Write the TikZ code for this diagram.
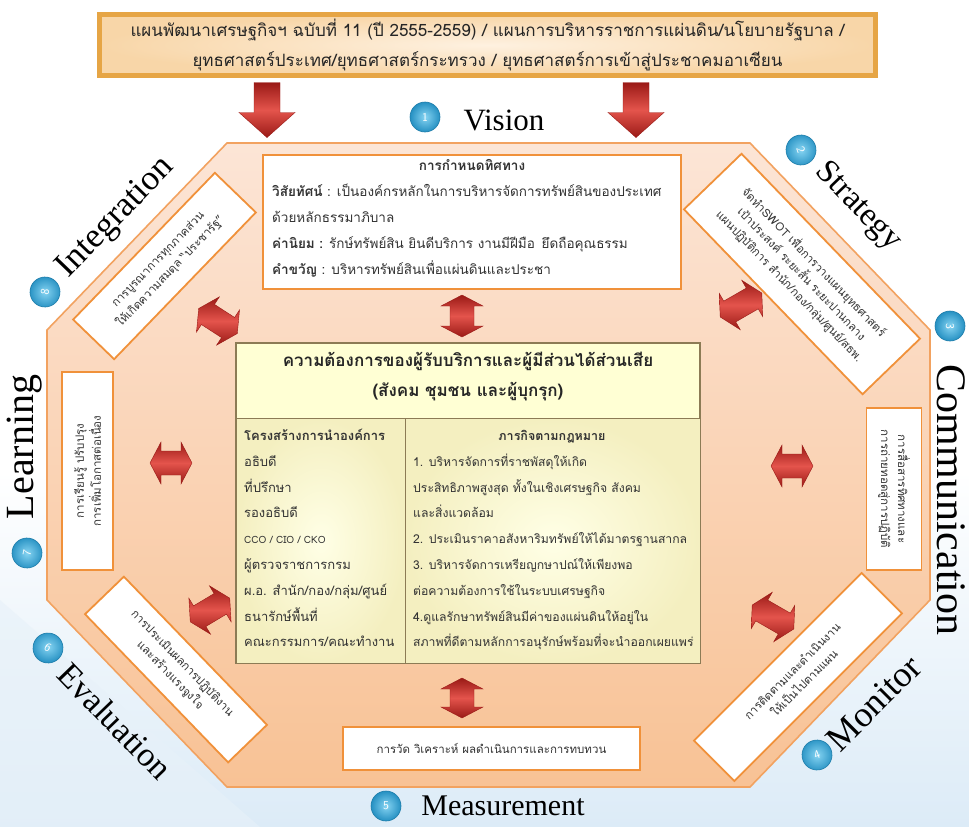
\documentclass[tikz,border=0pt]{standalone}
\usepackage{fontspec}
\setmainfont{Liberation Serif}
\newfontfamily\thai[Script=Thai]{Loma}
\newcommand{\tsize}[2]{\fontsize{#1}{#2}\selectfont}

\definecolor{skyblue}{HTML}{DCEBF7}
\definecolor{octtop}{HTML}{FCE5D6}
\definecolor{octbot}{HTML}{F8C295}
\definecolor{octline}{HTML}{F2A260}
\definecolor{boxline}{HTML}{F0913A}
\definecolor{bannergold}{HTML}{E6A545}
\definecolor{bannerin}{HTML}{FEF1E0}
\definecolor{bannerout}{HTML}{F8D6A8}
\definecolor{centerfill}{HTML}{FFFFD4}
\definecolor{centerline}{HTML}{8C7B55}
\definecolor{colin}{HTML}{FFFFE6}
\definecolor{colout}{HTML}{F4EFC0}
\definecolor{arrowdark}{HTML}{9A1A16}
\definecolor{arrowlight}{HTML}{E4544C}
\definecolor{ballblue}{HTML}{2590C2}
\definecolor{balllight}{HTML}{86D4F2}
\definecolor{ballrim}{HTML}{1E7DAA}
\definecolor{textgray}{HTML}{333333}

\begin{document}
\begin{tikzpicture}[x=1pt,y=-1pt]
\tikzset{
  every node/.style={inner sep=0pt},
  sidebox/.style={draw=boxline, line width=1.8pt, fill=white, align=center,
    text=textgray, font=\thai\tsize{11.5}{17}},
  ball/.style={circle, minimum size=30pt, draw=ballrim, line width=0.6pt,
    inner color=balllight, outer color=ballblue,
    text=white, font=\sffamily\tsize{12}{12}},
  phase/.style={text=black, font=\tsize{#1}{#1}},
  vtext/.style={text=textgray, font=\thai\tsize{13.5}{13.5}, text height=11pt, text depth=4pt},
  ctext/.style={text=textgray, font=\thai\tsize{13}{13}, text height=11pt, text depth=4pt, anchor=west},
  arrowshade/.style={top color=arrowdark, bottom color=arrowdark, middle color=arrowlight,
    draw=arrowdark, line width=0.4pt},
  pics/dblarrow/.style={code={
    \path[arrowshade] (-#1,0) -- (-#1+11,-21) -- (-#1+11,-12) -- (#1-11,-12) -- (#1-11,-21)
      -- (#1,0) -- (#1-11,21) -- (#1-11,12) -- (-#1+11,12) -- (-#1+11,21) -- cycle;}},
  pics/bigarrow/.style={code={
    \path[arrowshade] (-27.5,-13) -- (2.5,-13) -- (2.5,-28) -- (27.5,0) -- (2.5,28)
      -- (2.5,13) -- (-27.5,13) -- cycle;}}
}
\useasboundingbox (0,0) rectangle (969,827);

% backdrop
\fill[white] (0,0) rectangle (969,827);
\shade[top color=white, bottom color=skyblue] (0,470) rectangle (969,827);
\fill[skyblue!70, opacity=0.6] (0,600) -- (260,827) -- (0,827) -- cycle;

% octagon
\path[draw=octline, line width=1.6pt, top color=octtop, bottom color=octbot]
  (227,143) -- (750,143) -- (930,330) -- (930,600) -- (750,787) -- (227,787)
  -- (47,600) -- (47,330) -- cycle;

% plans banner
\node[draw=bannergold, line width=5pt, inner color=bannerin, outer color=bannerout,
  minimum width=776pt, minimum height=61pt, align=center, text=black!85,
  font=\thai\tsize{17}{30}] (plan) at (487.5,45)
  {แผนพัฒนาเศรษฐกิจฯ ฉบับที่ 11 (ปี 2555-2559) / แผนการบริหารราชการแผ่นดิน/นโยบายรัฐบาล /\\
   ยุทธศาสตร์ประเทศ/ยุทธศาสตร์กระทรวง / ยุทธศาสตร์การเข้าสู่ประชาคมอาเซียน};

\pic at (267,110) [rotate=-90] {bigarrow};
\pic at (636,110) [rotate=-90] {bigarrow};

% direction box
\node[draw=boxline, line width=2pt, fill=white, minimum width=418pt, minimum height=134pt] (vision) at (472,222) {};
\node[vtext, font=\thai\bfseries\tsize{13.5}{13.5}] (vtitle) at (472,167) {การกำหนดทิศทาง};
\node[vtext, anchor=west] (vline1) at (272,193) {\textbf{วิสัยทัศน์} : เป็นองค์กรหลักในการบริหารจัดการทรัพย์สินของประเทศ};
\node[vtext, anchor=west] (vline2) at (272,219) {ด้วยหลักธรรมาภิบาล};
\node[vtext, anchor=west] (vline3) at (272,245) {\textbf{ค่านิยม :} รักษ์ทรัพย์สิน ยินดีบริการ งานมีฝีมือ\enspace ยึดถือคุณธรรม};
\node[vtext, anchor=west] (vline4) at (272,271) {\textbf{คำขวัญ} : บริหารทรัพย์สินเพื่อแผ่นดินและประชา};

% stakeholder needs
\node[draw=centerline, line width=1.2pt, fill=centerfill, minimum width=464pt, minimum height=320pt] (needs) at (468,503) {};
\node[align=center, text=black!85, font=\thai\bfseries\tsize{17}{30}] (needstitle) at (468,377)
  {ความต้องการของผู้รับบริการและผู้มีส่วนได้ส่วนเสีย\\(สังคม ชุมชน และผู้บุกรุก)};
\node[draw=centerline, line width=1pt, inner color=colin, outer color=colout, anchor=north west,
  minimum width=169pt, minimum height=245pt] (structure) at (236,418) {};
\node[draw=centerline, line width=1pt, inner color=colin, outer color=colout, anchor=north west,
  minimum width=295pt, minimum height=245pt] (mission) at (405,418) {};

\foreach \t [count=\i from 0] in {\textbf{โครงสร้างการนำองค์การ}, อธิบดี, ที่ปรึกษา, รองอธิบดี,
  {\tsize{10}{10}CCO / CIO / CKO}, ผู้ตรวจราชการกรม, ผ.อ. สำนัก/กอง/กลุ่ม/ศูนย์, ธนารักษ์พื้นที่,
  คณะกรรมการ/คณะทำงาน}
  \node[ctext] (struct\i) at (244,437+25.8*\i) {\t};

\node[ctext, anchor=center, font=\thai\bfseries\tsize{12.5}{12.5}] (mtitle) at (552,437) {ภารกิจตามกฎหมาย};
\foreach \t [count=\i] in {1. บริหารจัดการที่ราชพัสดุให้เกิด,
  ประสิทธิภาพสูงสุด ทั้งในเชิงเศรษฐกิจ สังคม, และสิ่งแวดล้อม,
  2. ประเมินราคาอสังหาริมทรัพย์ให้ได้มาตรฐานสากล, 3. บริหารจัดการเหรียญกษาปณ์ให้เพียงพอ,
  ต่อความต้องการใช้ในระบบเศรษฐกิจ, 4.ดูแลรักษาทรัพย์สินมีค่าของแผ่นดินให้อยู่ใน,
  สภาพที่ดีตามหลักการอนุรักษ์พร้อมที่จะนำออกเผยแพร่}
  \node[ctext, font=\thai\tsize{12.2}{12.2}] (mline\i) at (413,437+25.8*\i) {\t};

% two-way links
\pic at (462,316) [rotate=90] {dblarrow=21};
\pic at (462,698) [rotate=90] {dblarrow=20};
\pic at (218,321) [rotate=-33] {dblarrow=23};
\pic at (741,305) [rotate=30] {dblarrow=24};
\pic at (171,463) [rotate=0] {dblarrow=21};
\pic at (792,466) [rotate=0] {dblarrow=21};
\pic at (210,610) [rotate=31] {dblarrow=23};
\pic at (773,617) [rotate=-30] {dblarrow=24};

% cycle stage boxes
\node[sidebox, rotate=-46, minimum width=257pt, minimum height=80pt] (strategy) at (802,274)
  {จัดทำSWOT เพื่อการวางแผนยุทธศาสตร์\\เป้าประสงค์ ระยะสั้น ระยะปานกลาง\\แผนปฏิบัติการ สำนัก/กอง/กลุ่ม/ศูนย์/สธพ.};
\node[sidebox, rotate=-90, minimum width=162pt, minimum height=55pt] (communication) at (894,489)
  {การสื่อสารทิศทางและ\\การถ่ายทอดสู่การปฏิบัติ};
\node[sidebox, rotate=45, minimum width=237pt, minimum height=57pt] (monitor) at (798,677)
  {การติดตามและดำเนินงาน\\ให้เป็นไปตามแผน};
\node[sidebox, minimum width=297pt, minimum height=43pt] (measure) at (491.5,748.5)
  {การวัด วิเคราะห์ ผลดำเนินการและการทบทวน};
\node[sidebox, rotate=-46, minimum width=206pt, minimum height=54pt] (evaluation) at (176,669.5)
  {การประเมินผลการปฏิบัติงาน\\และสร้างแรงจูงใจ};
\node[sidebox, rotate=90, minimum width=198pt, minimum height=51pt] (learning) at (87.5,471)
  {การเรียนรู้ ปรับปรุง\\การเพิ่มโอกาสต่อเนื่อง};
\node[sidebox, rotate=46, minimum width=204pt, minimum height=57pt] (integration) at (164.5,266)
  {การบูรณาการทุกภาคส่วน\\ให้เกิดความสมดุล “ประชารัฐ”};

% numbered stage markers
\node[ball] (b1) at (425,117) {1};
\node[ball, rotate=-70] (b2) at (801,150) {2};
\node[ball, rotate=-90] (b3) at (950,326) {3};
\node[ball, rotate=20] (b4) at (817,755) {4};
\node[ball] (b5) at (386,806) {5};
\node[ball, rotate=-30] (b6) at (48,648) {6};
\node[ball, rotate=80] (b7) at (27,553) {7};
\node[ball, rotate=80] (b8) at (45,292) {8};

% stage names
\node[phase=31] (lvision) at (504,120) {Vision};
\node[phase=33, rotate=-46] (lstrategy) at (858,207) {Strategy};
\node[phase=42, rotate=-90] (lcomm) at (951,500) {Communication};
\node[phase=36, rotate=45] (lmonitor) at (874,703) {Monitor};
\node[phase=30] (lmeasure) at (503,806) {Measurement};
\node[phase=34, rotate=-46] (leval) at (115,721) {Evaluation};
\node[phase=40, rotate=90] (llearn) at (25,447) {Learning};
\node[phase=35, rotate=46] (linteg) at (116,218) {Integration};
\end{tikzpicture}
\end{document}
